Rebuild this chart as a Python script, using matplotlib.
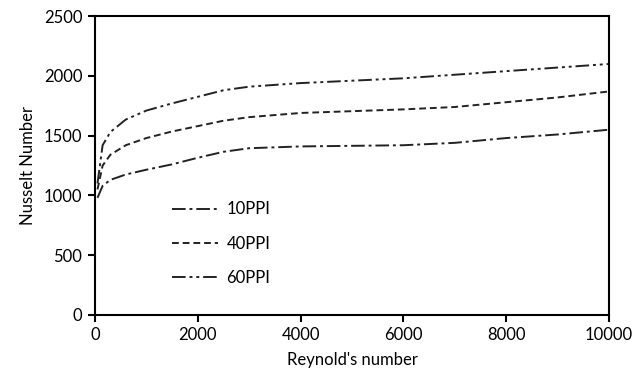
import numpy as np
import matplotlib.pyplot as plt

plt.rcParams['font.family'] = ['Lato', 'DejaVu Sans']

# Reynold's number and Nusselt numbers
re = [50, 150, 300, 600, 1000, 1500, 2000, 2500, 3000, 4000, 5000, 6000, 7000, 8000, 9000, 10000]
nu_10 = [980, 1080, 1130, 1175, 1215, 1260, 1315, 1365, 1395, 1410, 1415, 1420, 1440, 1480, 1510, 1550]
nu_40 = [1050, 1250, 1340, 1420, 1480, 1535, 1580, 1625, 1655, 1690, 1705, 1720, 1740, 1780, 1820, 1870]
nu_60 = [1100, 1420, 1530, 1635, 1710, 1770, 1825, 1880, 1910, 1940, 1960, 1980, 2010, 2040, 2070, 2100]

fig = plt.figure(figsize=(6.37, 3.85), dpi=100)
ax = fig.add_axes([0.149, 0.182, 0.807, 0.776])

ax.plot(re, nu_10, color='#222222', lw=1.4, dashes=(7, 2, 1.5, 2), label='10PPI')
ax.plot(re, nu_40, color='#222222', lw=1.4, dashes=(3.5, 2), label='40PPI')
ax.plot(re, nu_60, color='#222222', lw=1.4, dashes=(7, 2, 1.5, 2, 1.5, 2), label='60PPI')

ax.set_xlim(0, 10000)
ax.set_ylim(0, 2500)
ax.set_xticks(np.arange(0, 10001, 2000))
ax.set_yticks(np.arange(0, 2501, 500))
ax.tick_params(direction='out', length=5, width=1.5, labelsize=12, pad=4)
for s in ax.spines.values():
    s.set_linewidth(1.5)

ax.set_xlabel("Reynold's number", fontsize=12, labelpad=6)
ax.set_ylabel('Nusselt Number', fontsize=12, labelpad=6)

ax.legend(loc='upper left', bbox_to_anchor=(0.12, 0.43), frameon=False, fontsize=12,
          handlelength=2.8, labelspacing=1.1, handletextpad=0.5)

plt.savefig('out.png', dpi=100)
